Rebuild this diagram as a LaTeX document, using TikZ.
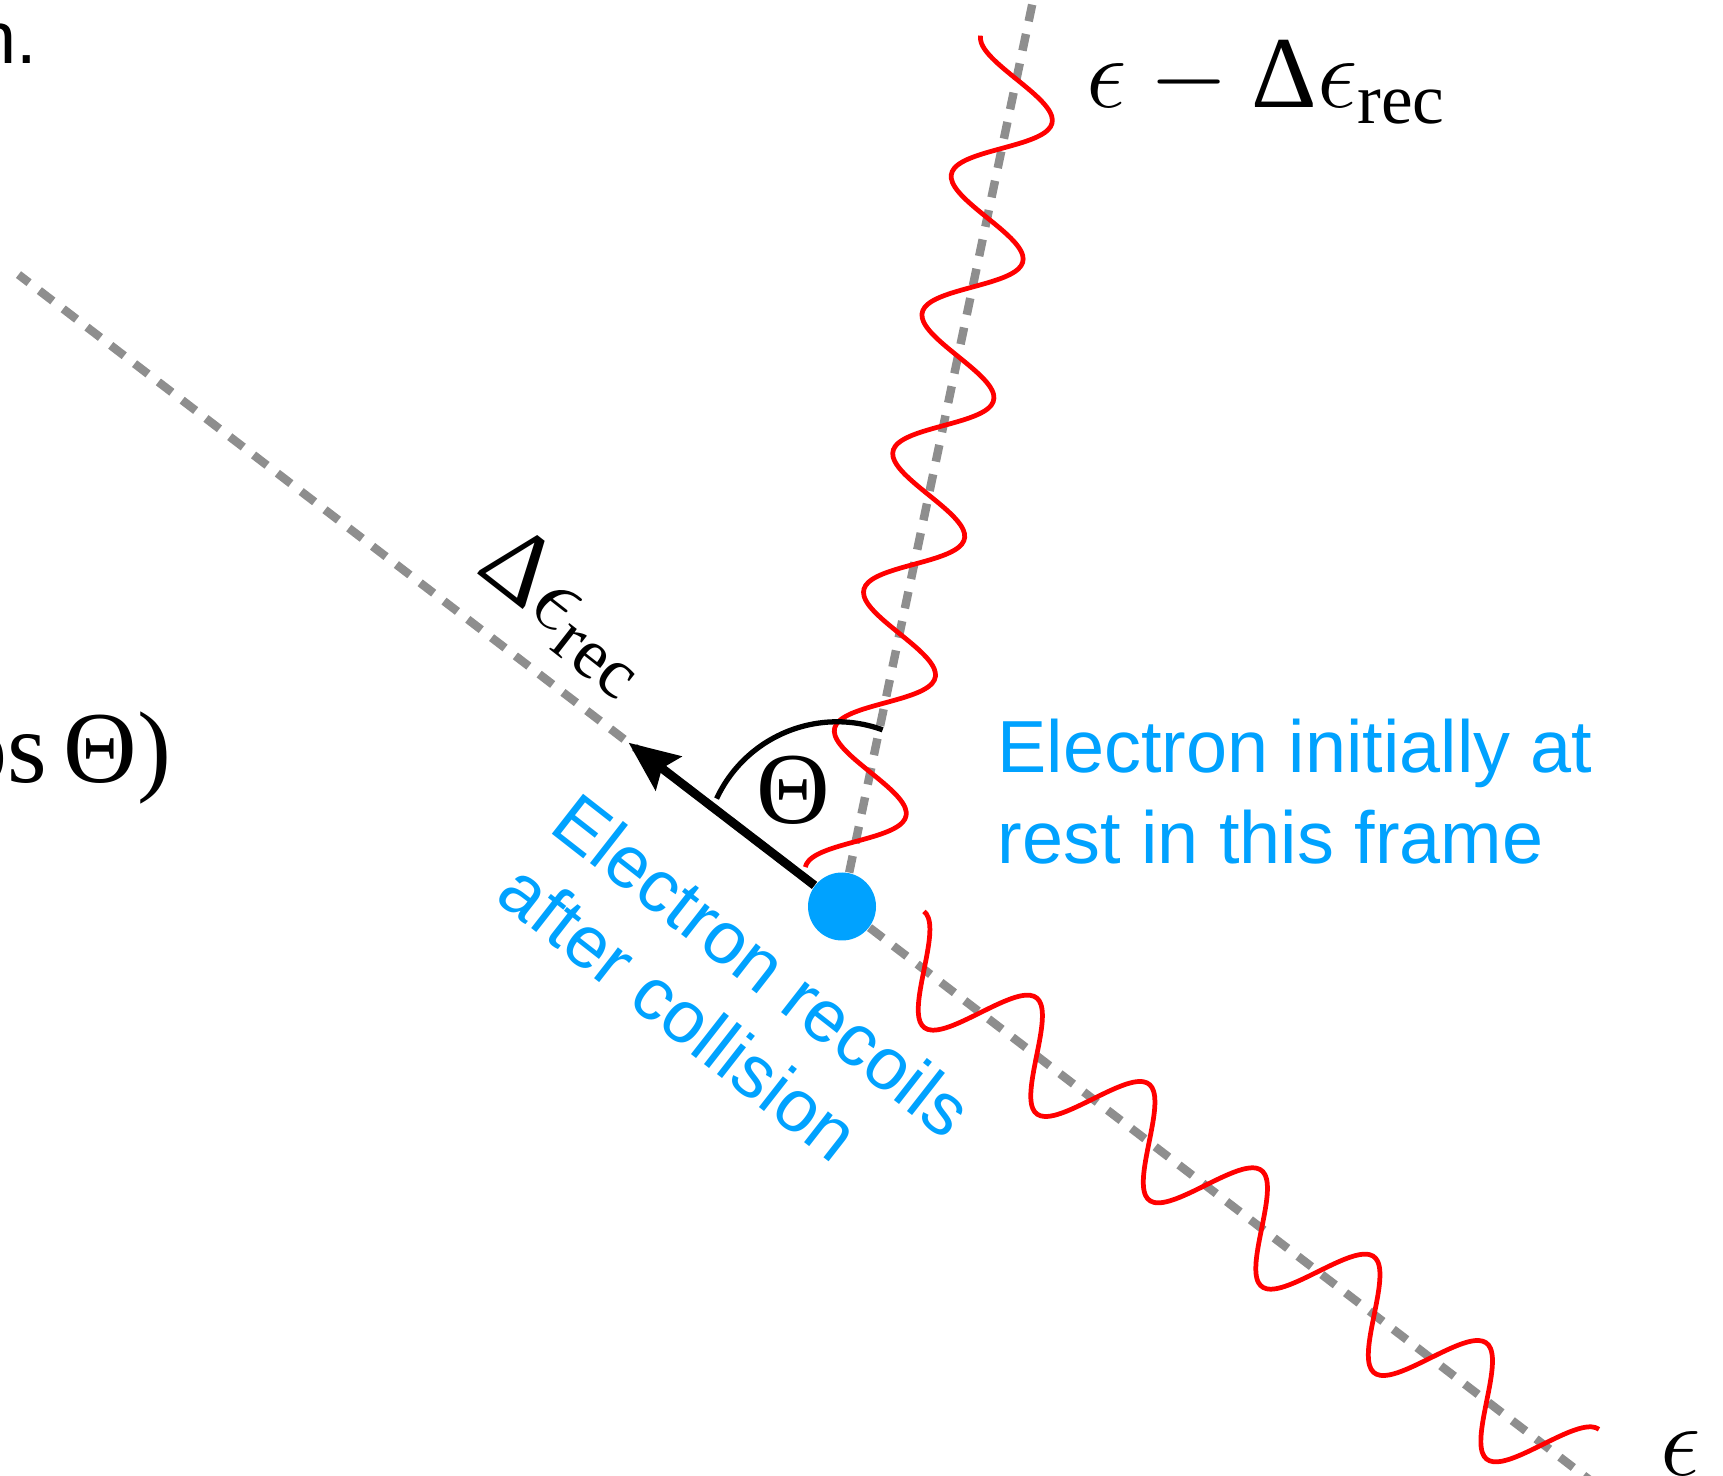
\RequirePackage{fix-cm}
\documentclass[tikz,border=0pt]{standalone}
\usepackage{amsmath}
\usepackage{fontspec}
\setmainfont{Liberation Serif}
\newfontfamily\sansfont{Liberation Sans}
\usetikzlibrary{arrows.meta}
\definecolor{ElectronBlue}{HTML}{00A2FF}
\definecolor{PhotonRed}{HTML}{FF0000}
\definecolor{AxisGray}{HTML}{8E8E8E}
\tikzset{
  % Dashed axis
  ax/.style={draw=AxisGray,line width=2.4pt,dash pattern=on 0.17cm off 0.13cm},
  % Photon wave
  ph/.style={draw=PhotonRed,line width=1.35pt,smooth,samples=240},
  % Arrow and angle
  arr/.style={-{Stealth[length=0.5cm,width=0.42cm,inset=0.08cm]},line width=2.5pt},
  ang/.style={line width=1.5pt},
  % Label styles
  LM/.style={inner sep=0pt,font=\fontsize{29}{35}\selectfont},
  LB/.style={inner sep=0pt,text=ElectronBlue,font=\sansfont\fontsize{21}{26}\selectfont}
}

\begin{document}
\begin{tikzpicture}
  \useasboundingbox (0,0) rectangle (17.23,-14.76);
  \node[circle,fill=ElectronBlue,minimum size=0.68cm,inner sep=0pt] (e) at (8.42,-9.065) {};
  \coordinate (ax1a) at (0.185,-2.746);
  \coordinate (ax1b) at (16.04,-14.91);
  \coordinate (ax2) at (10.38,0.23);
  \coordinate (tip) at (6.286,-7.427);

  \draw[ax] (e) -- (ax1a);
  \draw[ax] (e) -- (ax1b);
  \draw[ax] (e) -- (ax2);

  % scattered and incoming photons
  \begin{scope}[shift={(e)},rotate=78.1]
    \draw[ph] plot[domain=0.31:8.81] (\x,{0.44*cos(360*(\x-0.31)/1.4167)});
  \end{scope}
  \begin{scope}[shift={(e)},rotate=-37.5]
    \draw[ph] plot[domain=0.68:9.19] (\x,{0.46*cos(360*(\x-0.68)/1.4183)});
  \end{scope}

  \draw[arr] (e) -- (tip);
  \draw[ang] (7.166,-7.986) arc[start angle=155,end angle=70,radius=1.33];

  \node[LM] (th) at (7.93,-7.90) {Θ};
  \node[LM,anchor=base west] (scat) at (10.86,-1.08) {$\epsilon-\text{Δ}\epsilon_{\text{rec}}$};
  \node[LM,anchor=base west] (inc) at (16.6,-14.75) {$\epsilon$};
  \node[LM,anchor=base west,rotate=-38] (drec) at (4.74,-5.71) {$\text{Δ}\epsilon_{\text{rec}}$};
  \node[LM,anchor=base east] (cosT) at (1.72,-7.83) {os\,Θ)};
  \node[anchor=base east,inner sep=0pt,font=\sansfont\fontsize{21}{26}\selectfont] (nfrag) at (0.38,-0.64) {n.};

  \node[LB,anchor=base west,align=left] (rest) at (9.97,-8.64) {Electron initially at\\rest in this frame};
  \node[LB,anchor=base west,align=left,rotate=-38,font=\sansfont\fontsize{21}{25}\selectfont] (recoil) at (4.932,-8.991) {Electron recoils\\after collision};
\end{tikzpicture}
\end{document}
